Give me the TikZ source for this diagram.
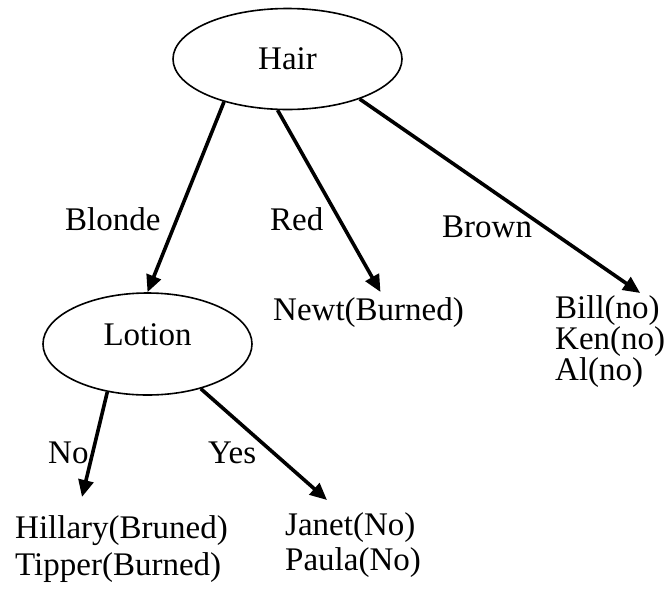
\documentclass[tikz,border=0pt]{standalone}
\usepackage{fontspec}
\setmainfont{Liberation Serif}
\usetikzlibrary{arrows.meta,shapes.geometric}

\begin{document}
\begin{tikzpicture}[x=1pt,y=-1pt,
  every node/.style={font=\fontsize{33}{36}\selectfont, inner sep=0pt},
  decision/.style={ellipse, draw, line width=1.6pt},
  leaf/.style={anchor=north west, align=left},
  branch/.style={anchor=base west},
  edge/.style={line width=3.6pt, -{Triangle[length=17pt,width=15pt]}}]
  \useasboundingbox (0,0) rectangle (670,598);

  % decision nodes
  \node[decision, minimum width=229pt, minimum height=101pt] (hair) at (287.5,59) {Hair};
  \node[decision, minimum width=209pt, minimum height=102pt,
        text height=22pt, text depth=19pt] (lotion) at (147.5,344) {Lotion};

  % outcome lists
  \node[leaf] (newt) at (273,297.5) {Newt(Burned)};
  \node[leaf, font=\fontsize{33}{29.5}\selectfont] (bill) at (555,295.5) {Bill(no)\\Ken(no)\\Al(no)};
  \node[leaf, font=\fontsize{33}{37}\selectfont] (hill) at (15,515.5) {Hillary(Bruned)\\Tipper(Burned)};
  \node[leaf, font=\fontsize{33}{35}\selectfont] (janet) at (285,512.5) {Janet(No)\\Paula(No)};

  % branch labels
  \node[branch] (lblonde) at (65,230) {Blonde};
  \node[branch] (lred) at (270,230) {Red};
  \node[branch] (lbrown) at (442,237) {Brown};
  \node[branch] (lno) at (48,463) {No};
  \node[branch] (lyes) at (208,463) {Yes};

  % branches
  \draw[edge] (hair.214) -- (lotion.north);
  \draw[edge] (hair.259) -- ([xshift=12pt,yshift=5.5pt]newt.north);
  \draw[edge] (hair.331) -- ([xshift=30pt,yshift=2.5pt]bill.north);
  \draw[edge] (lotion.230) -- ([xshift=-39.5pt,yshift=18.5pt]hill.north);
  \draw[edge] (lotion.320) -- ([xshift=-26pt,yshift=12.5pt]janet.north);
\end{tikzpicture}
\end{document}
